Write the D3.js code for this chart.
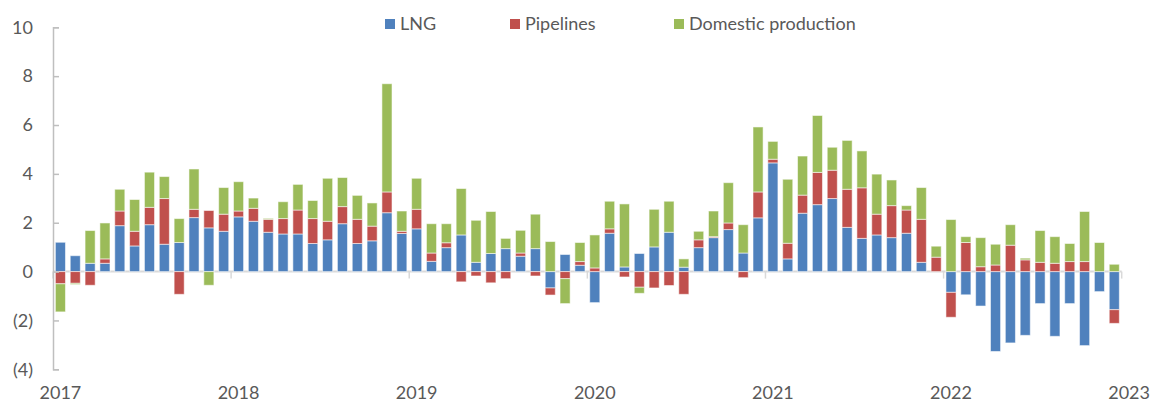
<!DOCTYPE html>
<html>
<head>
<meta charset="utf-8">
<script src="https://cdn.jsdelivr.net/npm/d3@7"></script>
<style>
  body { margin: 0; background: #fff; }
  text { font-family: Lato, "Open Sans", sans-serif; fill: #595959; }
</style>
</head>
<body>
<script>

    // monthly change, Jan 2017 .. Dec 2022
    var years = [2017, 2018, 2019, 2020, 2021, 2022, 2023];
    var yTicks = [-4, -2, 0, 2, 4, 6, 8, 10];
    var seriesNames = ["LNG", "Pipelines", "Domestic production"];
    var colors = ["#4f81bd", "#c0504d", "#9bbb59"];

    var lng = [1.2, 0.65, 0.34, 0.34, 1.88, 1.05, 1.92, 1.12, 1.19, 2.21, 1.79, 1.65,
        2.24, 2.06, 1.61, 1.54, 1.54, 1.15, 1.3, 1.96, 1.15, 1.26, 2.41, 1.56,
        1.75, 0.42, 0.98, 1.5, 0.38, 0.74, 0.94, 0.63, 0.94, -0.67, 0.7, 0.26,
        -1.27, 1.57, 0.19, 0.74, 1.01, 1.61, 0.18, 0.98, 1.39, 1.72, 0.76, 2.2,
        4.45, 0.52, 2.39, 2.74, 2.99, 1.81, 1.36, 1.5, 1.39, 1.57, 0.38, 0,
        -0.85, -0.95, -1.41, -3.27, -2.92, -2.61, -1.31, -2.65, -1.31, -3.03, -0.82, -1.56];

    var pipelines = [-0.5, -0.48, -0.56, 0.18, 0.6, 0.6, 0.71, 1.87, -0.93, 0.34, 0.71, 0.7,
        0.24, 0.53, 0.53, 0.63, 0.98, 1.02, 0.76, 0.7, 0.99, 0.6, 0.85, 0.09,
        0.8, 0.34, 0.2, -0.42, -0.18, -0.46, -0.29, 0.13, -0.18, -0.29, -0.29, 0.15,
        0.15, 0.18, -0.22, -0.64, -0.67, -0.57, -0.93, 0.32, 0.04, 0.27, -0.25, 1.06,
        0.15, 0.64, 0.74, 1.32, 1.16, 1.56, 2.07, 0.85, 1.31, 0.95, 1.76, 0.59,
        -1.02, 1.19, 0.2, 0.27, 1.08, 0.48, 0.38, 0.34, 0.41, 0.41, 0, -0.56];

    var domestic = [-1.15, -0.05, 1.34, 1.47, 0.89, 1.3, 1.44, 0.9, 0.98, 1.65, -0.56, 1.09,
        1.2, 0.42, 0.04, 0.69, 1.05, 0.74, 1.76, 1.19, 0.98, 0.95, 4.43, 0.83,
        1.27, 1.2, 0.78, 1.9, 1.72, 1.72, 0.42, 0.93, 1.41, 1.23, -1.02, 0.78,
        1.35, 1.13, 2.58, -0.25, 1.54, 1.27, 0.34, 0.35, 1.05, 1.65, 1.16, 2.66,
        0.73, 2.62, 1.6, 2.33, 0.94, 2.0, 1.51, 1.64, 1.05, 0.18, 1.3, 0.45,
        2.13, 0.24, 1.19, 0.85, 0.84, 0.07, 1.3, 1.09, 0.74, 2.05, 1.19, 0.3];

    var data = lng.map(function(d, i) {
        return { month: i, "LNG": d, "Pipelines": pipelines[i], "Domestic production": domestic[i] };
    });

    var width = 1150, height = 404;
    var left = 53, right = 1121.7;

    var svg = d3.select("body")
    .append("svg")
    .attr("width", width)
    .attr("height", height);

    var stacked = d3.stack().keys(seriesNames).offset(d3.stackOffsetDiverging)(data);

    var x = d3.scaleBand()
    .domain(data.map(function(d) { return d.month; }))
    .range([left, right])
    .paddingInner(0.32)
    .paddingOuter(0.16);

    var xYear = d3.scaleLinear()
    .domain([years[0], years[years.length - 1]])
    .range([left, right]);

    var y = d3.scaleLinear()
    .domain([-4, 10])
    .range([369.3, 27.3]);

    // zero line with year ticks
    svg.append("line")
    .attr("x1", left).attr("x2", right)
    .attr("y1", y(0)).attr("y2", y(0))
    .attr("stroke", "#d9d9d9")
    .attr("stroke-width", 2);

    svg.selectAll("line.yeartick")
    .data(years)
    .enter().append("line")
    .attr("class", "yeartick")
    .attr("x1", function(d) { return xYear(d); })
    .attr("x2", function(d) { return xYear(d); })
    .attr("y1", y(0))
    .attr("y2", y(0) + 7)
    .attr("stroke", "#d9d9d9")
    .attr("stroke-width", 1.5);

    // bars
    var groups = svg.selectAll("g.series")
    .data(stacked)
    .enter().append("g")
    .attr("class", "series")
    .style("fill", function(d, i) { return colors[i]; });

    groups.selectAll("rect")
    .data(function(d) { return d; })
    .enter()
    .append("rect")
    .attr("x", function(d) { return x(d.data.month); })
    .attr("y", function(d) { return y(Math.max(d[0], d[1])); })
    .attr("height", function(d) { return Math.abs(y(d[0]) - y(d[1])); })
    .attr("width", x.bandwidth())
    .attr("stroke", "rgba(255,255,255,0.55)")
    .attr("stroke-width", 1);

    // y axis, ticks pointing inward
    var yAxis = d3.axisLeft(y)
    .tickValues(yTicks)
    .tickSize(-6)
    .tickPadding(20)
    .tickFormat(function(d) { return d < 0 ? "(" + (-d) + ")" : d; });

    var ya = svg.append("g")
    .attr("class", "y axis")
    .attr("transform", "translate(" + left + ",0)")
    .call(yAxis);
    ya.select(".domain").attr("stroke", "#bfbfbf").attr("stroke-width", 1.5);
    ya.selectAll(".tick line").attr("stroke", "#bfbfbf").attr("stroke-width", 1.5);
    ya.selectAll("text").attr("font-size", 18).style("fill", "#595959");

    // year labels at the bottom, centred on January bars
    svg.selectAll("text.year")
    .data(years)
    .enter().append("text")
    .attr("class", "year")
    .attr("x", function(d) { return xYear(d) + x.step() / 2; })
    .attr("y", 399)
    .attr("text-anchor", "middle")
    .attr("font-size", 18)
    .text(function(d) { return d; });

    // legend
    var legendX = [385, 510, 674];
    var legend = svg.selectAll(".legend")
    .data(seriesNames)
    .enter().append("g")
    .attr("class", "legend")
    .attr("transform", function(d, i) { return "translate(" + legendX[i] + ",19)"; });

    legend.append("rect")
    .attr("width", 10)
    .attr("height", 10)
    .style("fill", function(d, i) { return colors[i]; });

    legend.append("text")
    .attr("x", 15)
    .attr("y", 5)
    .attr("dy", ".35em")
    .attr("font-size", 18)
    .text(function(d) { return d; });

</script>
</body>
</html>
